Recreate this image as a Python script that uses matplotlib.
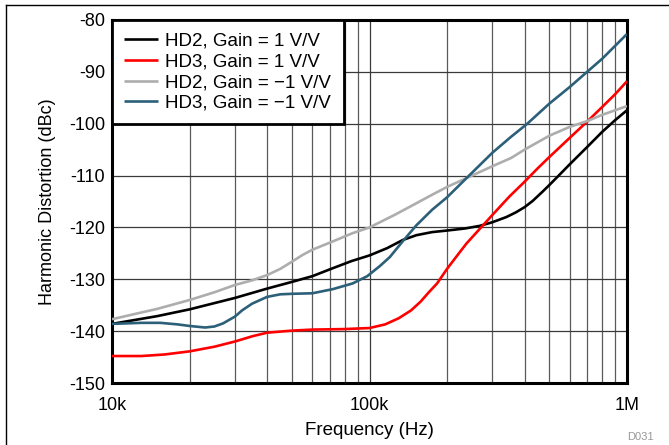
import matplotlib
matplotlib.use("Agg")
import matplotlib.pyplot as plt
from matplotlib.lines import Line2D
from matplotlib.ticker import NullFormatter, FixedLocator

plt.rcParams['font.family'] = ['Liberation Sans', 'DejaVu Sans']

# HD2, Gain = 1 V/V
f_hd2_g1 = [10e3, 15e3, 20e3, 30e3, 40e3, 50e3, 60e3, 70e3, 85e3, 100e3, 117e3, 135e3, 152e3, 175e3,
            200e3, 235e3, 268e3, 300e3, 340e3, 370e3, 400e3, 430e3, 470e3, 500e3, 543e3, 600e3, 700e3,
            800e3, 900e3, 1e6]
v_hd2_g1 = [-138.6, -137.1, -135.8, -133.6, -131.8, -130.5, -129.4, -128.1, -126.5, -125.4, -124.0, -122.4,
            -121.5, -120.9, -120.6, -120.2, -119.7, -119.0, -118.0, -117.1, -116.1, -114.9, -113.1, -111.8,
            -110.0, -107.8, -104.5, -101.6, -99.3, -97.4]

# HD3, Gain = 1 V/V
f_hd3_g1 = [10e3, 13e3, 16e3, 20e3, 25e3, 30e3, 35e3, 40e3, 50e3, 60e3, 80e3, 100e3, 115e3, 130e3, 145e3,
            158e3, 170e3, 183e3, 200e3, 220e3, 238e3, 277e3, 300e3, 350e3, 400e3, 450e3, 500e3, 600e3,
            700e3, 800e3, 900e3, 1e6]
v_hd3_g1 = [-144.8, -144.8, -144.5, -143.9, -143.0, -142.0, -141.0, -140.3, -139.9, -139.7, -139.6, -139.4,
            -138.7, -137.5, -136.0, -134.3, -132.5, -130.8, -128.0, -125.3, -123.1, -119.5, -117.6, -114.0,
            -111.2, -108.6, -106.4, -102.7, -99.6, -96.8, -94.3, -91.8]

# HD2, Gain = -1 V/V
f_hd2_gm1 = [10e3, 15e3, 20e3, 25e3, 30e3, 35e3, 40e3, 45e3, 50e3, 55e3, 60e3, 72e3, 86e3, 100e3, 125e3,
             150e3, 175e3, 200e3, 250e3, 300e3, 355e3, 400e3, 500e3, 600e3, 700e3, 800e3, 1e6]
v_hd2_gm1 = [-137.7, -135.7, -134.0, -132.5, -131.1, -130.2, -129.2, -128.0, -126.6, -125.3, -124.3, -122.7,
             -121.1, -120.0, -117.6, -115.5, -113.7, -112.2, -110.0, -108.2, -106.6, -105.0, -102.3, -100.6,
             -99.5, -98.3, -96.6]

# HD3, Gain = -1 V/V
f_hd3_gm1 = [10e3, 13e3, 15.4e3, 18e3, 20e3, 23e3, 25e3, 27e3, 30e3, 32e3, 35e3, 40e3, 45e3, 50e3, 60e3,
             72e3, 86e3, 98e3, 110e3, 120e3, 135e3, 152e3, 175e3, 200e3, 238e3, 300e3, 355e3, 410e3, 500e3,
             600e3, 700e3, 800e3, 1e6]
v_hd3_gm1 = [-138.6, -138.4, -138.4, -138.7, -139.0, -139.3, -139.1, -138.5, -137.2, -136.0, -134.7, -133.4,
             -132.9, -132.8, -132.7, -131.9, -130.8, -129.4, -127.4, -125.7, -122.6, -119.6, -116.6, -114.2,
             -110.5, -105.6, -102.5, -100.0, -96.1, -92.9, -90.0, -87.5, -82.7]

series_labels = ['HD2, Gain = 1 V/V', 'HD3, Gain = 1 V/V', 'HD2, Gain = \u22121 V/V', 'HD3, Gain = \u22121 V/V']
series_colors = ['#000000', '#FF0000', '#ADADAD', '#2C5F78']

y_ticks = [-150, -140, -130, -120, -110, -100, -90, -80]
y_tick_labels = ['-150', '-140', '-130', '-120', '-110', '-100', '-90', '-80']
x_ticks = [1e4, 1e5, 1e6]
x_tick_labels = ['10k', '100k', '1M']

fig = plt.figure(figsize=(6.69, 4.45), dpi=100)
ax = fig.add_axes([112/669, 1-383/445, (627-112)/669, (383-20)/445])

data = [(f_hd2_g1, v_hd2_g1), (f_hd3_g1, v_hd3_g1), (f_hd2_gm1, v_hd2_gm1), (f_hd3_gm1, v_hd3_gm1)]
for (f, v), lab, col in zip(data, series_labels, series_colors):
    ax.plot(f, v, color=col, lw=1.9, label=lab, solid_capstyle='butt', zorder=3)

ax.set_xscale('log')
ax.set_xlim(1e4, 1e6)
ax.set_ylim(-150, -80)
ax.set_xticks(x_ticks)
ax.set_xticklabels(x_tick_labels)
ax.xaxis.set_minor_locator(FixedLocator([m * d for d in (1e4, 1e5) for m in range(2, 10)]))
ax.xaxis.set_minor_formatter(NullFormatter())
ax.set_yticks(y_ticks)
ax.set_yticklabels(y_tick_labels)
ax.tick_params(which='both', length=0, labelsize=13, colors='black')
ax.tick_params(axis='x', pad=10)
ax.tick_params(axis='y', pad=5)

ax.grid(True, which='major', color='#3a3a3a', lw=0.9)
ax.grid(True, which='minor', axis='x', color='#5a5a5a', lw=0.9)
ax.set_axisbelow(True)
for s in ax.spines.values():
    s.set_linewidth(2.2)
    s.set_color('black')

ax.set_xlabel('Frequency (Hz)', fontsize=13.5, labelpad=6)
ax.set_ylabel('Harmonic Distortion (dBc)', fontsize=13, labelpad=9)

leg = ax.legend(loc='upper left', bbox_to_anchor=(0, 1), borderaxespad=0, fontsize=13.5,
                fancybox=False, framealpha=1, edgecolor='black', handlelength=1.8,
                handletextpad=0.4, labelspacing=0.2, borderpad=0.65)
leg.get_frame().set_linewidth(2.0)
leg.set_zorder(5)

fig.text(640/669, 1-437/445, 'D031', fontsize=8, color='#999999', ha='center', va='center')

# outer frame
fig.add_artist(Line2D([6/669, 6/669], [0, 1-5/445], color='black', lw=1.0))
fig.add_artist(Line2D([6/669, 1], [1-5/445, 1-5/445], color='black', lw=1.0))

fig.savefig('out.png', dpi=100)
